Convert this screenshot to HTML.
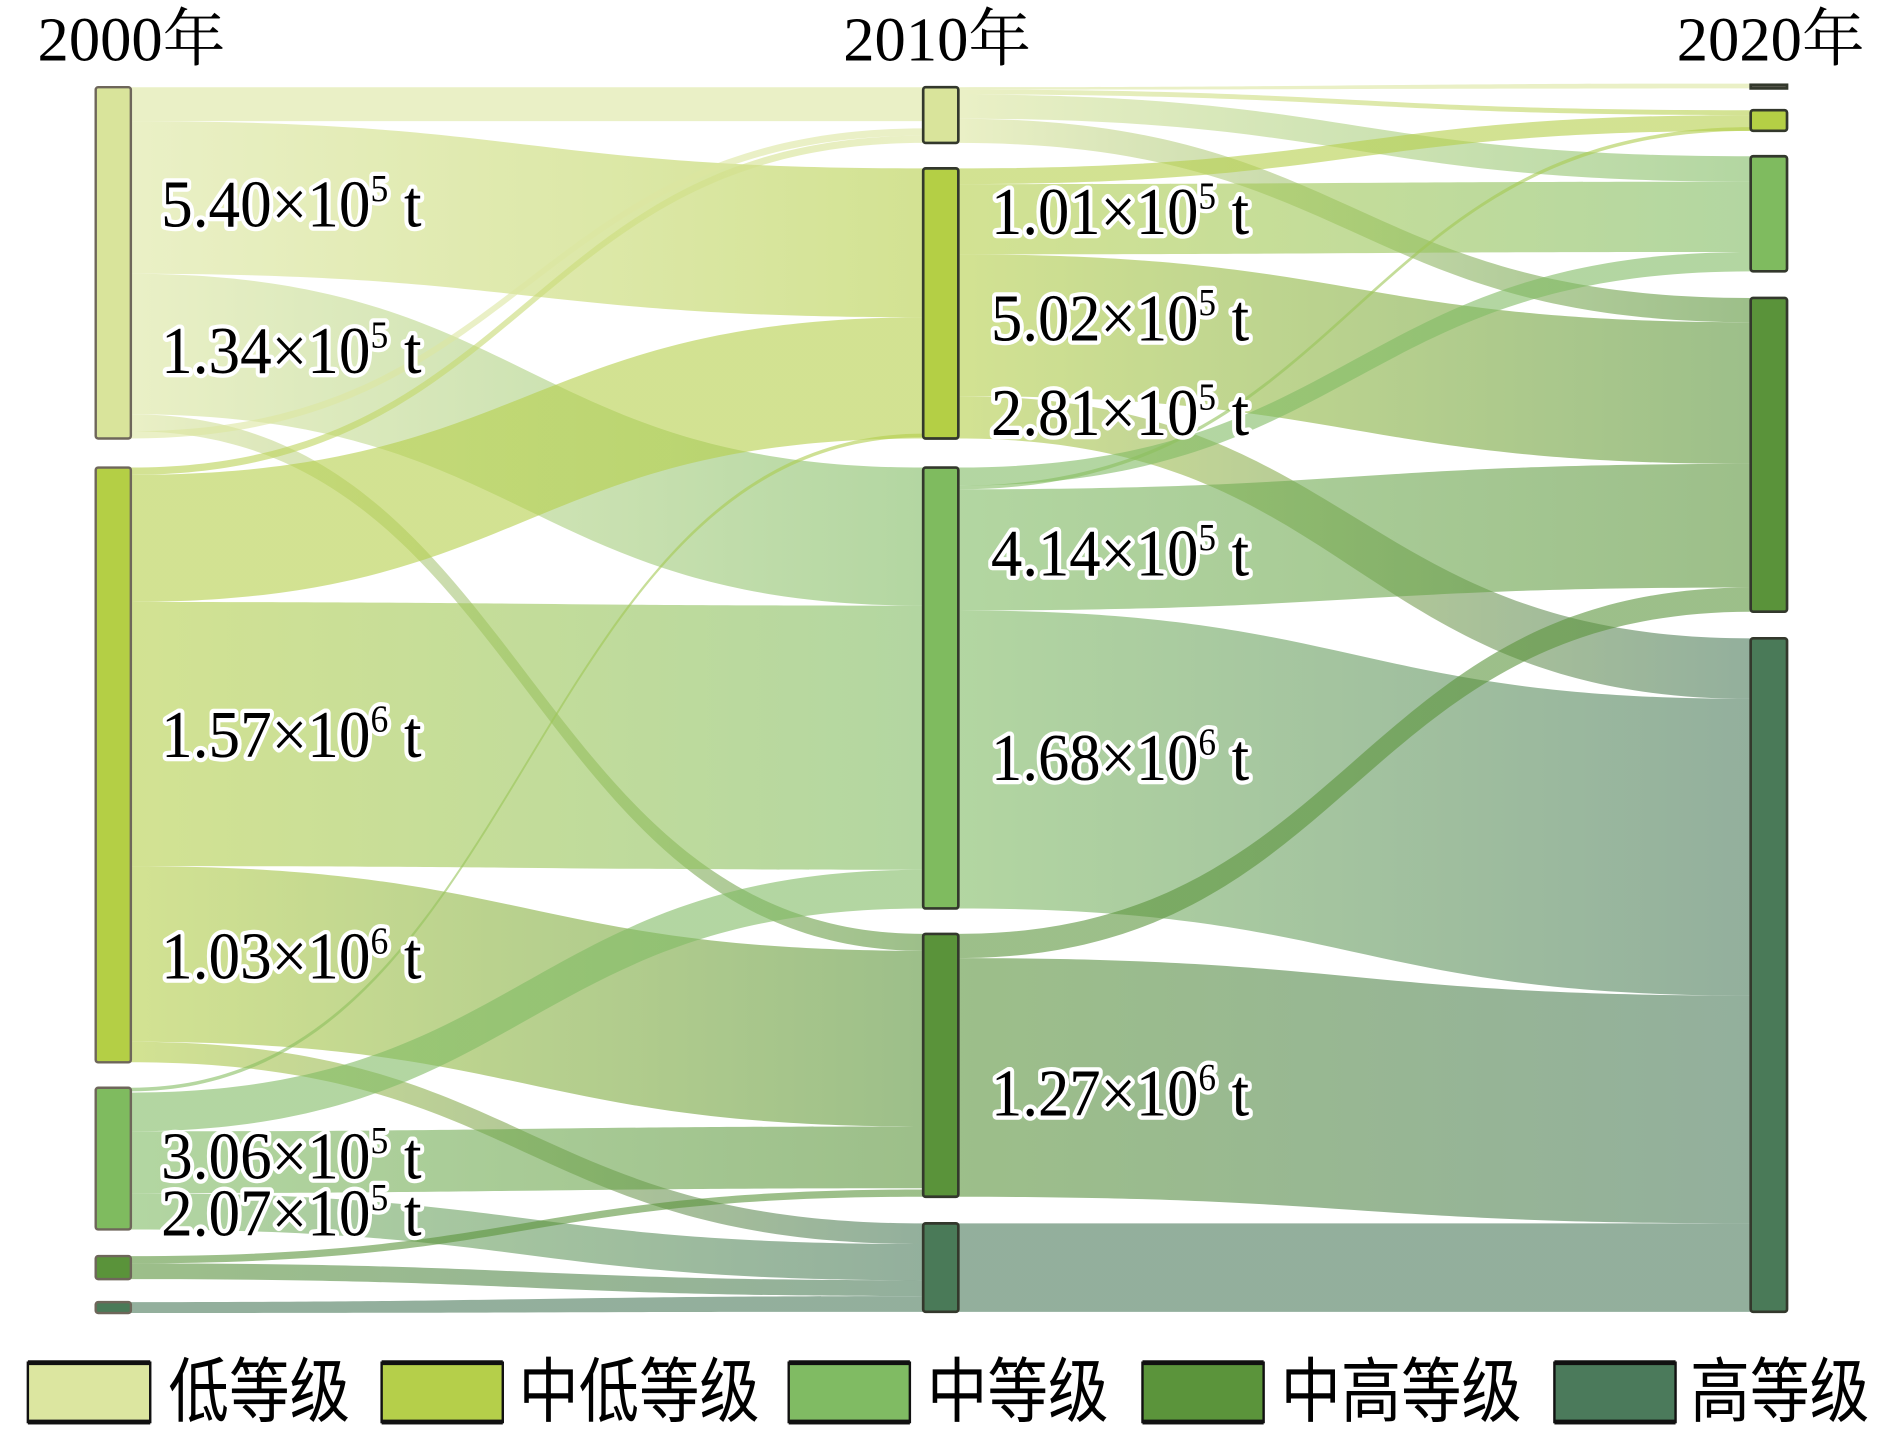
<!DOCTYPE html>
<html>
<head>
<meta charset="utf-8">
<style>
html,body{margin:0;padding:0;background:#fff;}
svg{display:block;}
.lbl{font-family:"Liberation Serif","Noto Serif CJK SC",serif;fill:#000;stroke:#fff;stroke-width:7;stroke-linejoin:round;paint-order:stroke;}
.ttl{font-family:"Liberation Serif","Noto Serif CJK SC",serif;fill:#000;}
.leg{font-family:"Liberation Sans","Noto Sans CJK SC",sans-serif;fill:#000;}
.lk{fill-opacity:0.6;}
</style>
</head>
<body>
<svg width="1890" height="1439" viewBox="0 0 1560 1188" preserveAspectRatio="none" xmlns="http://www.w3.org/2000/svg">
<defs>
<!-- stage 1 gradients -->
<linearGradient id="a00" gradientUnits="userSpaceOnUse" x1="108" y1="0" x2="762" y2="0"><stop offset="0" stop-color="#dce6a0"/><stop offset="1" stop-color="#dce6a0"/></linearGradient>
<linearGradient id="a01" gradientUnits="userSpaceOnUse" x1="108" y1="0" x2="762" y2="0"><stop offset="0" stop-color="#dce6a0"/><stop offset="1" stop-color="#b5cf4a"/></linearGradient>
<linearGradient id="a02" gradientUnits="userSpaceOnUse" x1="108" y1="0" x2="762" y2="0"><stop offset="0" stop-color="#dce6a0"/><stop offset="1" stop-color="#80bb63"/></linearGradient>
<linearGradient id="a03" gradientUnits="userSpaceOnUse" x1="108" y1="0" x2="762" y2="0"><stop offset="0" stop-color="#dce6a0"/><stop offset="1" stop-color="#5b943b"/></linearGradient>
<linearGradient id="a10" gradientUnits="userSpaceOnUse" x1="108" y1="0" x2="762" y2="0"><stop offset="0" stop-color="#b5cf4a"/><stop offset="1" stop-color="#dce6a0"/></linearGradient>
<linearGradient id="a11" gradientUnits="userSpaceOnUse" x1="108" y1="0" x2="762" y2="0"><stop offset="0" stop-color="#b5cf4a"/><stop offset="1" stop-color="#b5cf4a"/></linearGradient>
<linearGradient id="a12" gradientUnits="userSpaceOnUse" x1="108" y1="0" x2="762" y2="0"><stop offset="0" stop-color="#b5cf4a"/><stop offset="1" stop-color="#80bb63"/></linearGradient>
<linearGradient id="a13" gradientUnits="userSpaceOnUse" x1="108" y1="0" x2="762" y2="0"><stop offset="0" stop-color="#b5cf4a"/><stop offset="1" stop-color="#5b943b"/></linearGradient>
<linearGradient id="a14" gradientUnits="userSpaceOnUse" x1="108" y1="0" x2="762" y2="0"><stop offset="0" stop-color="#b5cf4a"/><stop offset="1" stop-color="#4b7a5b"/></linearGradient>
<linearGradient id="a21" gradientUnits="userSpaceOnUse" x1="108" y1="0" x2="762" y2="0"><stop offset="0" stop-color="#80bb63"/><stop offset="1" stop-color="#b5cf4a"/></linearGradient>
<linearGradient id="a22" gradientUnits="userSpaceOnUse" x1="108" y1="0" x2="762" y2="0"><stop offset="0" stop-color="#80bb63"/><stop offset="1" stop-color="#80bb63"/></linearGradient>
<linearGradient id="a23" gradientUnits="userSpaceOnUse" x1="108" y1="0" x2="762" y2="0"><stop offset="0" stop-color="#80bb63"/><stop offset="1" stop-color="#5b943b"/></linearGradient>
<linearGradient id="a24" gradientUnits="userSpaceOnUse" x1="108" y1="0" x2="762" y2="0"><stop offset="0" stop-color="#80bb63"/><stop offset="1" stop-color="#4b7a5b"/></linearGradient>
<linearGradient id="a33" gradientUnits="userSpaceOnUse" x1="108" y1="0" x2="762" y2="0"><stop offset="0" stop-color="#5b943b"/><stop offset="1" stop-color="#5b943b"/></linearGradient>
<linearGradient id="a34" gradientUnits="userSpaceOnUse" x1="108" y1="0" x2="762" y2="0"><stop offset="0" stop-color="#5b943b"/><stop offset="1" stop-color="#4b7a5b"/></linearGradient>
<linearGradient id="a44" gradientUnits="userSpaceOnUse" x1="108" y1="0" x2="762" y2="0"><stop offset="0" stop-color="#4b7a5b"/><stop offset="1" stop-color="#4b7a5b"/></linearGradient>
<!-- stage 2 gradients -->
<linearGradient id="b00" gradientUnits="userSpaceOnUse" x1="791" y1="0" x2="1445" y2="0"><stop offset="0" stop-color="#dce6a0"/><stop offset="1" stop-color="#dce6a0"/></linearGradient>
<linearGradient id="b01" gradientUnits="userSpaceOnUse" x1="791" y1="0" x2="1445" y2="0"><stop offset="0" stop-color="#dce6a0"/><stop offset="1" stop-color="#b5cf4a"/></linearGradient>
<linearGradient id="b02" gradientUnits="userSpaceOnUse" x1="791" y1="0" x2="1445" y2="0"><stop offset="0" stop-color="#dce6a0"/><stop offset="1" stop-color="#80bb63"/></linearGradient>
<linearGradient id="b03" gradientUnits="userSpaceOnUse" x1="791" y1="0" x2="1445" y2="0"><stop offset="0" stop-color="#dce6a0"/><stop offset="1" stop-color="#5b943b"/></linearGradient>
<linearGradient id="b11" gradientUnits="userSpaceOnUse" x1="791" y1="0" x2="1445" y2="0"><stop offset="0" stop-color="#b5cf4a"/><stop offset="1" stop-color="#b5cf4a"/></linearGradient>
<linearGradient id="b12" gradientUnits="userSpaceOnUse" x1="791" y1="0" x2="1445" y2="0"><stop offset="0" stop-color="#b5cf4a"/><stop offset="1" stop-color="#80bb63"/></linearGradient>
<linearGradient id="b13" gradientUnits="userSpaceOnUse" x1="791" y1="0" x2="1445" y2="0"><stop offset="0" stop-color="#b5cf4a"/><stop offset="1" stop-color="#5b943b"/></linearGradient>
<linearGradient id="b14" gradientUnits="userSpaceOnUse" x1="791" y1="0" x2="1445" y2="0"><stop offset="0" stop-color="#b5cf4a"/><stop offset="1" stop-color="#4b7a5b"/></linearGradient>
<linearGradient id="b21" gradientUnits="userSpaceOnUse" x1="791" y1="0" x2="1445" y2="0"><stop offset="0" stop-color="#80bb63"/><stop offset="1" stop-color="#b5cf4a"/></linearGradient>
<linearGradient id="b22" gradientUnits="userSpaceOnUse" x1="791" y1="0" x2="1445" y2="0"><stop offset="0" stop-color="#80bb63"/><stop offset="1" stop-color="#80bb63"/></linearGradient>
<linearGradient id="b23" gradientUnits="userSpaceOnUse" x1="791" y1="0" x2="1445" y2="0"><stop offset="0" stop-color="#80bb63"/><stop offset="1" stop-color="#5b943b"/></linearGradient>
<linearGradient id="b24" gradientUnits="userSpaceOnUse" x1="791" y1="0" x2="1445" y2="0"><stop offset="0" stop-color="#80bb63"/><stop offset="1" stop-color="#4b7a5b"/></linearGradient>
<linearGradient id="b33" gradientUnits="userSpaceOnUse" x1="791" y1="0" x2="1445" y2="0"><stop offset="0" stop-color="#5b943b"/><stop offset="1" stop-color="#5b943b"/></linearGradient>
<linearGradient id="b34" gradientUnits="userSpaceOnUse" x1="791" y1="0" x2="1445" y2="0"><stop offset="0" stop-color="#5b943b"/><stop offset="1" stop-color="#4b7a5b"/></linearGradient>
<linearGradient id="b44" gradientUnits="userSpaceOnUse" x1="791" y1="0" x2="1445" y2="0"><stop offset="0" stop-color="#4b7a5b"/><stop offset="1" stop-color="#4b7a5b"/></linearGradient>
</defs>

<!-- Stage 1 links: 2000 -> 2010 -->
<g class="lk">
<path fill="url(#a00)" d="M108 72 C435 72 435 72 762 72 L762 100 C435 100 435 100 108 100 Z"/>
<path fill="url(#a01)" d="M108 100 C435 100 435 139 762 139 L762 262 C435 262 435 226 108 226 Z"/>
<path fill="url(#a02)" d="M108 226 C435 226 435 386 762 386 L762 500 C435 500 435 342 108 342 Z"/>
<path fill="url(#a03)" d="M108 342 C435 342 435 771 762 771 L762 785 C435 785 435 356 108 356 Z"/>
<path fill="url(#a00)" d="M108 356 C435 356 435 106 762 106 L762 112 C435 112 435 362 108 362 Z"/>
<path fill="url(#a10)" d="M108 386 C435 386 435 112 762 112 L762 118 C435 118 435 392 108 392 Z"/>
<path fill="url(#a11)" d="M108 392 C435 392 435 262 762 262 L762 362 C435 362 435 497 108 497 Z"/>
<path fill="url(#a12)" d="M108 497 C435 497 435 500 762 500 L762 718 C435 718 435 715 108 715 Z"/>
<path fill="url(#a13)" d="M108 715 C435 715 435 785 762 785 L762 930 C435 930 435 860 108 860 Z"/>
<path fill="url(#a14)" d="M108 860 C435 860 435 1010 762 1010 L762 1027 C435 1027 435 877 108 877 Z"/>
<path fill="url(#a21)" d="M108 898 C435 898 435 358 762 358 L762 361 C435 361 435 901 108 901 Z"/>
<path fill="url(#a22)" d="M108 902 C435 902 435 718 762 718 L762 750 C435 750 435 934 108 934 Z"/>
<path fill="url(#a23)" d="M108 934 C435 934 435 930 762 930 L762 981 C435 981 435 985 108 985 Z"/>
<path fill="url(#a24)" d="M108 985 C435 985 435 1027 762 1027 L762 1057 C435 1057 435 1015 108 1015 Z"/>
<path fill="url(#a33)" d="M108 1037 C435 1037 435 982 762 982 L762 988 C435 988 435 1043 108 1043 Z"/>
<path fill="url(#a34)" d="M108 1043 C435 1043 435 1057 762 1057 L762 1070 C435 1070 435 1056 108 1056 Z"/>
<path fill="url(#a44)" d="M108 1075 C435 1075 435 1070 762 1070 L762 1083 C435 1083 435 1084 108 1084 Z"/>
</g>

<!-- Stage 2 links: 2010 -> 2020 -->
<g class="lk">
<path fill="url(#b00)" d="M791 72 C1118 72 1118 69 1445 69 L1445 73 C1118 73 1118 74 791 74 Z"/>
<path fill="url(#b01)" d="M791 74 C1118 74 1118 91 1445 91 L1445 95 C1118 95 1118 78 791 78 Z"/>
<path fill="url(#b02)" d="M791 78 C1118 78 1118 129 1445 129 L1445 150 C1118 150 1118 98 791 98 Z"/>
<path fill="url(#b03)" d="M791 98 C1118 98 1118 246 1445 246 L1445 266 C1118 266 1118 118 791 118 Z"/>
<path fill="url(#b11)" d="M791 139 C1118 139 1118 95 1445 95 L1445 108 C1118 108 1118 152 791 152 Z"/>
<path fill="url(#b12)" d="M791 152 C1118 152 1118 150 1445 150 L1445 208 C1118 208 1118 210 791 210 Z"/>
<path fill="url(#b13)" d="M791 210 C1118 210 1118 266 1445 266 L1445 383 C1118 383 1118 327 791 327 Z"/>
<path fill="url(#b14)" d="M791 327 C1118 327 1118 527 1445 527 L1445 577 C1118 577 1118 362 791 362 Z"/>
<path fill="url(#b22)" d="M791 386 C1118 386 1118 208 1445 208 L1445 224 C1118 224 1118 401 791 401 Z"/>
<path fill="url(#b21)" d="M791 401 C1118 401 1118 105 1445 105 L1445 108 C1118 108 1118 404 791 404 Z"/>
<path fill="url(#b23)" d="M791 404 C1118 404 1118 383 1445 383 L1445 485 C1118 485 1118 504 791 504 Z"/>
<path fill="url(#b24)" d="M791 504 C1118 504 1118 577 1445 577 L1445 822 C1118 822 1118 750 791 750 Z"/>
<path fill="url(#b33)" d="M791 771 C1118 771 1118 485 1445 485 L1445 505 C1118 505 1118 791 791 791 Z"/>
<path fill="url(#b34)" d="M791 791 C1118 791 1118 822 1445 822 L1445 1010 C1118 1010 1118 988 791 988 Z"/>
<path fill="url(#b44)" d="M791 1010 C1118 1010 1118 1010 1445 1010 L1445 1083 C1118 1083 1118 1083 791 1083 Z"/>
</g>

<!-- Nodes 2000 -->
<g stroke="#6e665a" stroke-width="2">
<rect x="79" y="72" width="29" height="290" rx="2" fill="#d9e49b"/>
<rect x="79" y="386" width="29" height="491" rx="2" fill="#b4cf45"/>
<rect x="79" y="898" width="29" height="117" rx="2" fill="#7fbb5f"/>
<rect x="79" y="1037" width="29" height="19" rx="2" fill="#5a933a"/>
<rect x="79" y="1075" width="29" height="9" rx="2" fill="#4a7a58"/>
</g>
<!-- Nodes 2010 -->
<g stroke="#33382c" stroke-width="2.2">
<rect x="762" y="72" width="29" height="46" rx="2" fill="#d9e49b"/>
<rect x="762" y="139" width="29" height="223" rx="2" fill="#b4cf45"/>
<rect x="762" y="386" width="29" height="364" rx="2" fill="#7fbb5f"/>
<rect x="762" y="771" width="29" height="217" rx="2" fill="#5a933a"/>
<rect x="762" y="1010" width="29" height="73" rx="2" fill="#4a7a58"/>
</g>
<!-- Nodes 2020 -->
<g stroke="#33382c" stroke-width="2.2">
<rect x="1445" y="70" width="30" height="3" fill="#5a5a50"/>
<rect x="1445" y="91" width="30" height="17" rx="2" fill="#b4cf45"/>
<rect x="1445" y="129" width="30" height="95" rx="2" fill="#7fbb5f"/>
<rect x="1445" y="246" width="30" height="259" rx="2" fill="#5a933a"/>
<rect x="1445" y="527" width="30" height="556" rx="2" fill="#4a7a58"/>
</g>

<!-- Year titles -->
<text class="ttl" x="31" y="50" font-size="52" textLength="155" lengthAdjust="spacingAndGlyphs">2000年</text>
<text class="ttl" x="696" y="50" font-size="52" textLength="155" lengthAdjust="spacingAndGlyphs">2010年</text>
<text class="ttl" x="1384" y="50" font-size="52" textLength="155" lengthAdjust="spacingAndGlyphs">2020年</text>

<!-- Flow labels left -->
<text class="lbl" x="133" y="187" font-size="55" textLength="215" lengthAdjust="spacingAndGlyphs">5.40×10<tspan dy="-21" font-size="31">5</tspan><tspan dy="21"> t</tspan></text>
<text class="lbl" x="133" y="308" font-size="55" textLength="215" lengthAdjust="spacingAndGlyphs">1.34×10<tspan dy="-21" font-size="31">5</tspan><tspan dy="21"> t</tspan></text>
<text class="lbl" x="133" y="625" font-size="55" textLength="215" lengthAdjust="spacingAndGlyphs">1.57×10<tspan dy="-21" font-size="31">6</tspan><tspan dy="21"> t</tspan></text>
<text class="lbl" x="133" y="808" font-size="55" textLength="215" lengthAdjust="spacingAndGlyphs">1.03×10<tspan dy="-21" font-size="31">6</tspan><tspan dy="21"> t</tspan></text>
<text class="lbl" x="133" y="973" font-size="55" textLength="215" lengthAdjust="spacingAndGlyphs">3.06×10<tspan dy="-21" font-size="31">5</tspan><tspan dy="21"> t</tspan></text>
<text class="lbl" x="133" y="1020" font-size="55" textLength="215" lengthAdjust="spacingAndGlyphs">2.07×10<tspan dy="-21" font-size="31">5</tspan><tspan dy="21"> t</tspan></text>

<!-- Flow labels middle -->
<text class="lbl" x="818" y="193" font-size="55" textLength="213" lengthAdjust="spacingAndGlyphs">1.01×10<tspan dy="-21" font-size="31">5</tspan><tspan dy="21"> t</tspan></text>
<text class="lbl" x="818" y="281" font-size="55" textLength="213" lengthAdjust="spacingAndGlyphs">5.02×10<tspan dy="-21" font-size="31">5</tspan><tspan dy="21"> t</tspan></text>
<text class="lbl" x="818" y="359" font-size="55" textLength="213" lengthAdjust="spacingAndGlyphs">2.81×10<tspan dy="-21" font-size="31">5</tspan><tspan dy="21"> t</tspan></text>
<text class="lbl" x="818" y="475" font-size="55" textLength="213" lengthAdjust="spacingAndGlyphs">4.14×10<tspan dy="-21" font-size="31">5</tspan><tspan dy="21"> t</tspan></text>
<text class="lbl" x="818" y="644" font-size="55" textLength="213" lengthAdjust="spacingAndGlyphs">1.68×10<tspan dy="-21" font-size="31">6</tspan><tspan dy="21"> t</tspan></text>
<text class="lbl" x="818" y="921" font-size="55" textLength="213" lengthAdjust="spacingAndGlyphs">1.27×10<tspan dy="-21" font-size="31">6</tspan><tspan dy="21"> t</tspan></text>

<!-- Legend -->
<g>
<rect x="23" y="1125" width="101" height="49" fill="#dce6a0" stroke="#111" stroke-width="2"/>
<rect x="23" y="1123" width="101" height="4" fill="#111"/><rect x="23" y="1172" width="101" height="4" fill="#111"/>
<rect x="315" y="1125" width="100" height="49" fill="#b5cf4a" stroke="#111" stroke-width="2"/>
<rect x="315" y="1123" width="100" height="4" fill="#111"/><rect x="315" y="1172" width="100" height="4" fill="#111"/>
<rect x="651" y="1125" width="100" height="49" fill="#80bb63" stroke="#111" stroke-width="2"/>
<rect x="651" y="1123" width="100" height="4" fill="#111"/><rect x="651" y="1172" width="100" height="4" fill="#111"/>
<rect x="943" y="1125" width="100" height="49" fill="#5b943b" stroke="#111" stroke-width="2"/>
<rect x="943" y="1123" width="100" height="4" fill="#111"/><rect x="943" y="1172" width="100" height="4" fill="#111"/>
<rect x="1283" y="1125" width="100" height="49" fill="#4b7a5b" stroke="#111" stroke-width="2"/>
<rect x="1283" y="1123" width="100" height="4" fill="#111"/><rect x="1283" y="1172" width="100" height="4" fill="#111"/>
</g>
<text class="leg" x="139" y="1169" font-size="58" textLength="150" lengthAdjust="spacingAndGlyphs">低等级</text>
<text class="leg" x="428" y="1169" font-size="58" textLength="199" lengthAdjust="spacingAndGlyphs">中低等级</text>
<text class="leg" x="765" y="1169" font-size="58" textLength="150" lengthAdjust="spacingAndGlyphs">中等级</text>
<text class="leg" x="1057" y="1169" font-size="58" textLength="199" lengthAdjust="spacingAndGlyphs">中高等级</text>
<text class="leg" x="1395" y="1169" font-size="58" textLength="148" lengthAdjust="spacingAndGlyphs">高等级</text>
</svg>
</body>
</html>
